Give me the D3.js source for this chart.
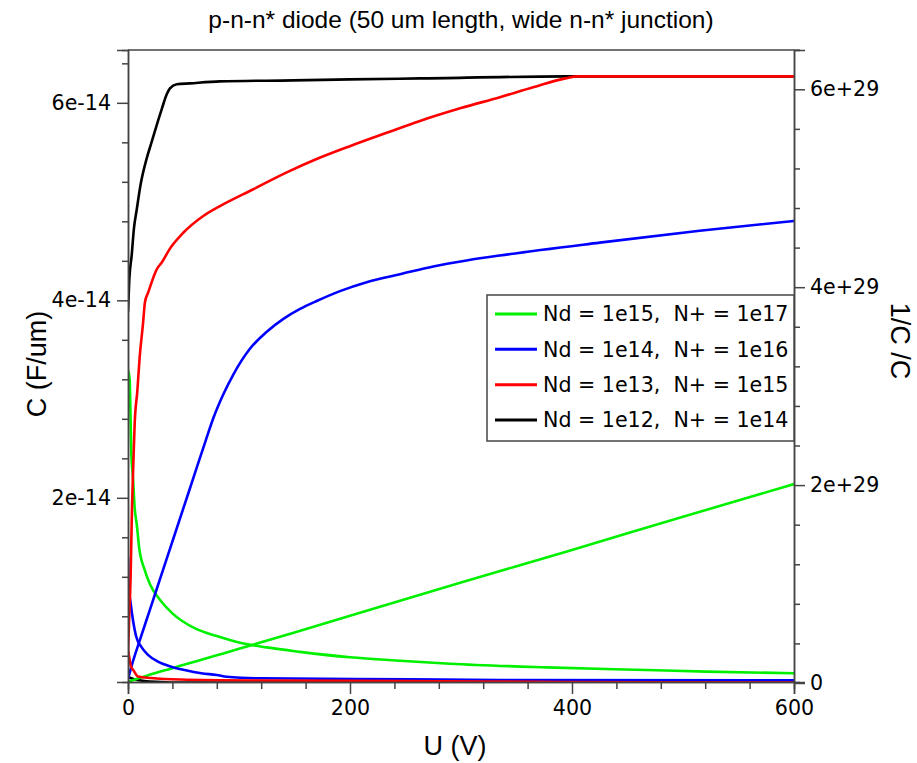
<!DOCTYPE html>
<html lang="en">
<head>
  <meta charset="UTF-8">
  <title>p-n-n* diode</title>
  <style>
    body { margin: 0; background: #fff; }
    svg { display: block; }
    .tick text { font-family: "DejaVu Sans", sans-serif; font-size: 20.6px; fill: #000; }
    .title { font-family: "Liberation Sans", Arial, sans-serif; font-size: 24.5px; fill: #000; }
    .lbl { font-family: "Liberation Sans", Arial, sans-serif; font-size: 27px; fill: #000; }
    .leg text { font-family: "DejaVu Sans", sans-serif; font-size: 20.6px; white-space: pre; }
  </style>
</head>
<body>
  <script src="https://cdn.jsdelivr.net/npm/d3@7"></script>
  <script>
    // U in volts, C in 1e-14 F/um (left axis), 1/C/C in 1e29 (right axis)
    const legendLabels = ['Nd = 1e15,  N+ = 1e17', 'Nd = 1e14,  N+ = 1e16', 'Nd = 1e13,  N+ = 1e15', 'Nd = 1e12,  N+ = 1e14']
    const colors = ['#00f000', '#0000ff', '#ff0000', '#000000']

    const xTicks = [0, 200, 400, 600]
    const leftTicks = [2, 4, 6]
    const leftTickLabels = ['2e-14', '4e-14', '6e-14']
    const rightTicks = [0, 2, 4, 6]
    const rightTickLabels = ['0', '2e+29', '4e+29', '6e+29']

    // green, Nd = 1e15
    const greenCU = [0, 1.5, 2.4, 3, 4.5, 6, 8, 10, 15, 20, 30, 40, 60, 80, 100, 125, 155, 200, 245, 290, 377, 467, 521, 600]
    const greenC = [3.29, 3.2, 2.75, 2.45, 2.2, 1.9, 1.72, 1.5, 1.27, 1.12, 0.95, 0.83, 0.68, 0.6, 0.535, 0.485, 0.44, 0.385, 0.35, 0.32, 0.283, 0.256, 0.24, 0.223]
    const greenRU = [0, 10, 20, 40, 60, 80, 100, 150, 200, 300, 400, 500, 600]
    const greenR = [0.01, 0.05, 0.085, 0.15, 0.215, 0.28, 0.345, 0.51, 0.68, 1.015, 1.345, 1.68, 2.01]

    // blue, Nd = 1e14
    const blueCU = [0, 0.45, 2.4, 4.5, 7.5, 12, 18, 27, 39, 51, 66, 80, 89, 119, 254, 335, 600]
    const blueC = [1.40, 1.14, 0.93, 0.76, 0.59, 0.49, 0.41, 0.34, 0.29, 0.256, 0.223, 0.206, 0.188, 0.172, 0.162, 0.155, 0.152]
    const blueRU = [0, 4.5, 10, 20, 30, 40, 50, 60, 70, 77, 86, 95, 110, 125, 140, 155, 170, 191, 215, 245, 275, 305, 335, 425, 515, 600]
    const blueR = [0.04, 0.22, 0.41, 0.75, 1.09, 1.43, 1.77, 2.11, 2.45, 2.68, 2.92, 3.12, 3.38, 3.55, 3.68, 3.78, 3.86, 3.96, 4.05, 4.13, 4.21, 4.27, 4.32, 4.45, 4.57, 4.67]

    // red, Nd = 1e13
    const redCU = [0, 1.5, 2.7, 4.5, 9, 20.7, 47, 119, 245, 394, 600]
    const redC = [0.46, 0.36, 0.29, 0.26, 0.19, 0.175, 0.16, 0.15, 0.145, 0.135, 0.128]
    const redRU = [0, 0.9, 2.4, 3.0, 3.6, 4.5, 6.0, 8.4, 10.5, 13.5, 15.3, 18.3, 25.9, 30.4, 37.8, 49.8, 67.8, 82.9, 112.9, 143, 171, 201, 233, 263, 300, 335, 365, 394, 405, 600]
    const redR = [0.3, 0.60, 1.10, 1.44, 1.77, 2.11, 2.62, 2.95, 3.29, 3.63, 3.85, 3.95, 4.18, 4.25, 4.39, 4.55, 4.72, 4.82, 4.99, 5.16, 5.30, 5.43, 5.56, 5.68, 5.81, 5.92, 6.02, 6.11, 6.13, 6.13]

    // black, Nd = 1e12
    const blackCU = [0, 5, 15, 30, 45, 600]
    const blackC = [0.185, 0.165, 0.145, 0.135, 0.128, 0.128]
    const blackRU = [0, 1.2, 3.3, 5.4, 7.8, 11.4, 16.8, 21.4, 24.3, 30.4, 34.9, 37.8, 43.9, 55.9, 82.9, 149, 200, 263, 394, 600]
    const blackR = [3.75, 4.08, 4.32, 4.6, 4.78, 5.04, 5.30, 5.47, 5.58, 5.80, 5.95, 6.01, 6.05, 6.06, 6.08, 6.09, 6.10, 6.11, 6.13, 6.13]

    const width = 917, height = 763
    const L = 128, R = 794, T = 50, B = 682

    const x = d3.scaleLinear().domain([0, 600]).range([L, R])
    const yL = d3.scaleLinear().domain([0.1347, 6.535]).range([B, T])
    const yR = d3.scaleLinear().domain([0.0101, 6.397]).range([B, T])

    const svg = d3.select('body').append('svg')
      .attr('width', width)
      .attr('height', height)

    svg.append('clipPath').attr('id', 'plot')
      .append('rect').attr('x', L).attr('y', T).attr('width', R - L).attr('height', B - T)

    const zip = (u, v) => u.map((d, i) => [d, v[i]])
    const series = [
      { c: colors[3], ax: yR, pts: zip(blackRU, blackR) },
      { c: colors[3], ax: yL, pts: zip(blackCU, blackC) },
      { c: colors[0], ax: yL, pts: zip(greenCU, greenC) },
      { c: colors[0], ax: yR, pts: zip(greenRU, greenR) },
      { c: colors[1], ax: yL, pts: zip(blueCU, blueC) },
      { c: colors[1], ax: yR, pts: zip(blueRU, blueR) },
      { c: colors[2], ax: yL, pts: zip(redCU, redC) },
      { c: colors[2], ax: yR, pts: zip(redRU, redR) }
    ]

    const g = svg.append('g').attr('clip-path', 'url(#plot)')
    for (let s of series) {
      const line = d3.line().x(d => x(d[0])).y(d => s.ax(d[1])).curve(d3.curveMonotoneX)
      g.append('path')
        .attr('d', line(s.pts))
        .attr('fill', 'none')
        .attr('stroke', s.c)
        .attr('stroke-width', 2.6)
    }

    // frame
    svg.append('line').attr('x1', L).attr('x2', R).attr('y1', T).attr('y2', T)
      .attr('stroke', '#444').attr('stroke-width', 1.5)

    const styleAxis = sel => {
      sel.selectAll('.domain').attr('stroke', '#444').attr('stroke-width', 1.5)
      sel.selectAll('.tick line').attr('stroke', '#444').attr('stroke-width', 1.5)
    }

    const minor = (step, lo, hi, major) =>
      d3.range(lo, hi + 1e-9, step).filter(v => !major.some(m => Math.abs(m - v) < 1e-6))

    // bottom
    svg.append('g').attr('transform', `translate(0,${B})`)
      .call(d3.axisBottom(x).tickValues(minor(40, 0, 600, xTicks)).tickSize(7).tickFormat(''))
      .call(styleAxis)
    svg.append('g').attr('transform', `translate(0,${B})`)
      .call(d3.axisBottom(x).tickValues(xTicks).tickSize(12).tickPadding(6).tickFormat(d => d))
      .call(styleAxis)

    // left
    svg.append('g').attr('transform', `translate(${L},0)`)
      .call(d3.axisLeft(yL).tickValues(minor(0.4, 0.4, 6.4, leftTicks)).tickSize(6).tickFormat(''))
      .call(styleAxis)
    svg.append('g').attr('transform', `translate(${L},0)`)
      .call(d3.axisLeft(yL).tickValues(leftTicks).tickSize(11).tickPadding(6).tickFormat((d, i) => leftTickLabels[i]))
      .call(styleAxis)

    // right
    svg.append('g').attr('transform', `translate(${R},0)`)
      .call(d3.axisRight(yR).tickValues(minor(0.4, 0.4, 6.4, rightTicks)).tickSize(6).tickFormat(''))
      .call(styleAxis)
    svg.append('g').attr('transform', `translate(${R},0)`)
      .call(d3.axisRight(yR).tickValues(rightTicks).tickSize(11).tickPadding(5).tickFormat((d, i) => rightTickLabels[i]))
      .call(styleAxis)

    // labels
    svg.append('text').attr('class', 'title').attr('x', 461).attr('y', 28)
      .attr('text-anchor', 'middle').text('p-n-n* diode (50 um length, wide n-n* junction)')
    svg.append('text').attr('class', 'lbl').attr('x', 455).attr('y', 755)
      .attr('text-anchor', 'middle').text('U (V)')
    svg.append('text').attr('class', 'lbl')
      .attr('transform', 'translate(46,364) rotate(-90)')
      .attr('text-anchor', 'middle').text('C (F/um)')
    svg.append('text').attr('class', 'lbl')
      .attr('transform', 'translate(891,341) rotate(90)')
      .attr('text-anchor', 'middle').text('1/C /C')

    // legend
    const leg = svg.append('g').attr('class', 'leg')
    leg.append('rect').attr('x', 487).attr('y', 295).attr('width', 307).attr('height', 146)
      .attr('fill', '#fff').attr('stroke', '#444').attr('stroke-width', 1.5)
    const rowY = d3.scalePoint().domain(legendLabels).range([314, 420])
    legendLabels.forEach((t, i) => {
      leg.append('line').attr('x1', 495).attr('x2', 537)
        .attr('y1', rowY(t)).attr('y2', rowY(t))
        .attr('stroke', colors[i]).attr('stroke-width', 3)
      leg.append('text').attr('x', 543).attr('y', rowY(t)).attr('dy', '0.36em')
        .text(t)
    })
  </script>
</body>
</html>
